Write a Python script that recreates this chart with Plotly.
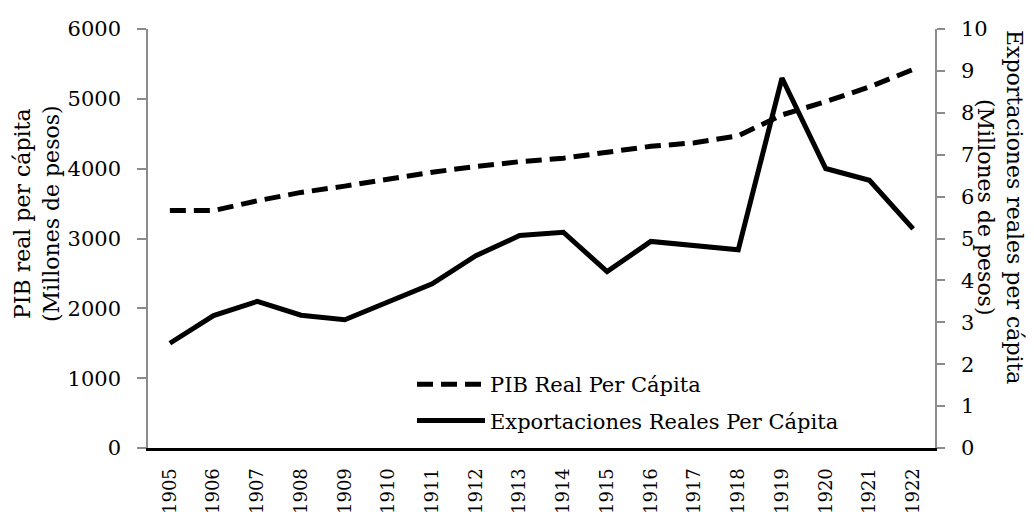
import plotly.graph_objects as go

years = [str(y) for y in range(1905, 1923)]
pib_real_pc = [3400, 3400, 3540, 3660, 3750, 3850, 3950, 4030, 4100, 4150,
               4240, 4320, 4370, 4470, 4770, 4960, 5170, 5420]
export_real_pc = [2.50, 3.16, 3.50, 3.17, 3.06, 3.50, 3.92, 4.59, 5.07, 5.15,
                  4.21, 4.93, 4.83, 4.73, 8.83, 6.67, 6.39, 5.23]

left_ticks = [0, 1000, 2000, 3000, 4000, 5000, 6000]
right_ticks = list(range(0, 11))

FONT = "DejaVu Serif"
FS = 20
TFS = 22

OFF = 8  # page body margin
W, H = 1034 - OFF, 517 - OFF
# plot area in screen pixels: x 148..935, y 29..448
L, T = 148 - OFF, 29 - OFF
R = W - (935 - OFF)
B = H - (448 - OFF)
PW = W - L - R
PH = H - T - B


def px(xs):
    return (xs - 148) / PW


def py(ys):
    return (448 - ys) / PH


fig = go.Figure()
fig.add_trace(go.Scatter(
    x=years, y=pib_real_pc, name="PIB Real Per Cápita", mode="lines",
    line=dict(color="black", width=5, dash="16px,8px"),
    legendgroup="a", yaxis="y"))
fig.add_trace(go.Scatter(
    x=years, y=export_real_pc, name="Exportaciones Reales Per Cápita", mode="lines",
    line=dict(color="black", width=5),
    legendgroup="b", yaxis="y2"))

fig.update_layout(
    width=W, height=H,
    margin=dict(l=L, r=R, t=T, b=B, autoexpand=False),
    paper_bgcolor="white", plot_bgcolor="white",
    font=dict(family=FONT, size=FS, color="black"),
    showlegend=True,
    legend=dict(x=px(412), y=py(364), xanchor="left", yanchor="top",
                bgcolor="rgba(0,0,0,0)", itemwidth=68, tracegroupgap=6,
                font=dict(family=FONT, size=21, color="black")),
    xaxis=dict(type="category", range=[-0.5, 17.5], tickangle=-90, showgrid=False,
               showline=True, linecolor="black", linewidth=3, automargin=False,
               ticks="", tickfont=dict(size=18), zeroline=False,
               ticklabelstandoff=10),
    yaxis=dict(range=[0, 6000], tickvals=left_ticks, showgrid=False, automargin=False,
               showline=True, linecolor="#8c8c8c", linewidth=1.5,
               ticks="outside", ticklen=9, tickcolor="#8c8c8c", tickwidth=1.5,
               ticklabelstandoff=12, zeroline=False, tickfont=dict(size=21)),
    yaxis2=dict(range=[0, 10], tickvals=right_ticks, overlaying="y", side="right",
                showgrid=False, showline=True, linecolor="#8c8c8c", linewidth=1.5,
                automargin=False,
                ticks="outside", ticklen=8, tickcolor="#8c8c8c", tickwidth=1.5,
                ticklabelstandoff=12, zeroline=False, tickfont=dict(size=21)),
    annotations=[
        dict(text="PIB real per cápita<br>(Millones de pesos)", textangle=-90,
             xref="paper", yref="paper", x=px(37), y=py(214),
             xanchor="center", yanchor="middle", showarrow=False, borderpad=0,
             font=dict(family=FONT, size=TFS)),
        dict(text="Exportaciones reales per cápita<br>(Millones de pesos)", textangle=90,
             xref="paper", yref="paper", x=px(1000), y=py(207),
             xanchor="center", yanchor="middle", showarrow=False, borderpad=0,
             font=dict(family=FONT, size=TFS)),
    ],
)

fig.write_html("out.html")
